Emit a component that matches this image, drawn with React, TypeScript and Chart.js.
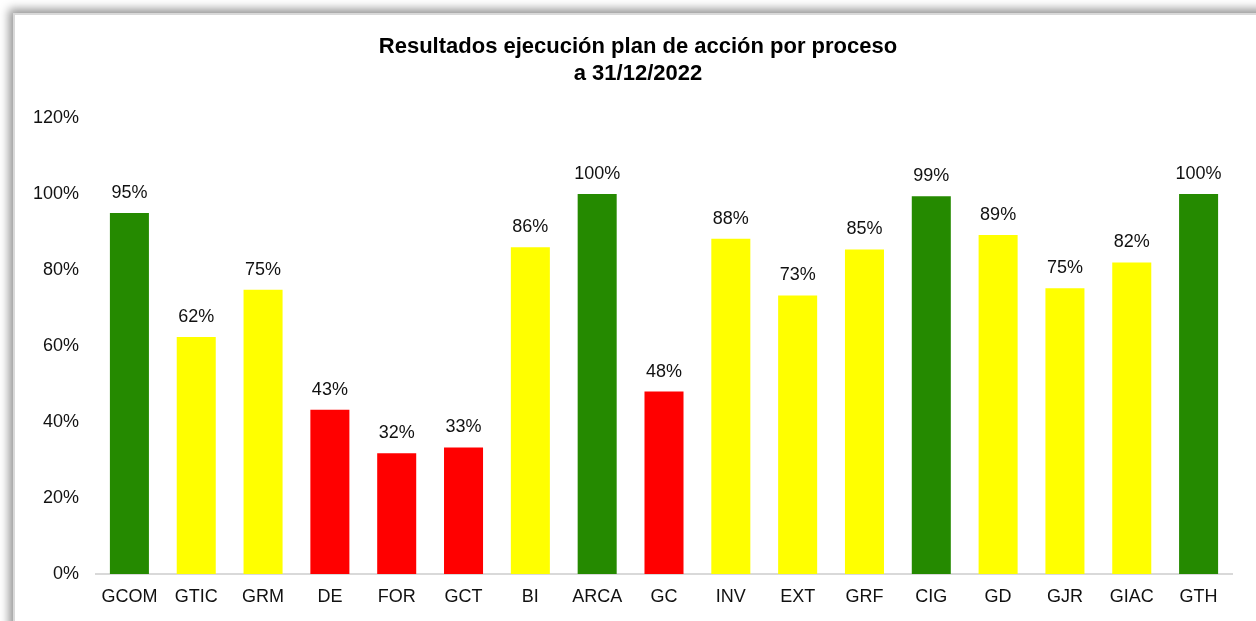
import React, { useEffect, useRef } from "react";
import { Chart, registerables } from "chart.js";

Chart.register(...registerables);

const TITLE_LINES = ["Resultados ejecución plan de acción por proceso", "a 31/12/2022"];
const CATEGORIES = ["GCOM", "GTIC", "GRM", "DE", "FOR", "GCT", "BI", "ARCA", "GC", "INV", "EXT", "GRF", "CIG", "GD", "GJR", "GIAC", "GTH"];
const VALUES = [95, 62.4, 74.8, 43.2, 31.8, 33.3, 86, 100, 48, 88.2, 73.3, 85.4, 99.4, 89.2, 75.2, 82, 100];
const STATUS = ["g", "y", "y", "r", "r", "r", "y", "g", "r", "y", "y", "y", "g", "y", "y", "y", "g"];
const STATUS_COLORS: Record<string, string> = { g: "#258a00", y: "#ffff00", r: "#ff0000" };
const Y_MAX = 120;
const Y_STEP = 20;

const FONT = "'Liberation Sans', Arial, sans-serif";

const valueLabels = {
  id: "valueLabels",
  afterDatasetsDraw(chart: any) {
    const ctx = chart.ctx;
    const meta = chart.getDatasetMeta(0);
    const data = chart.data.datasets[0].data as number[];
    ctx.save();
    ctx.font = `18px ${FONT}`;
    ctx.fillStyle = "#111";
    ctx.textAlign = "center";
    ctx.textBaseline = "alphabetic";
    meta.data.forEach((bar: any, i: number) => {
      ctx.fillText(`${Math.round(data[i])}%`, bar.x, bar.y - 15);
    });
    ctx.restore();
  },
};

const titlePlugin = {
  id: "customTitle",
  afterDraw(chart: any) {
    const ctx = chart.ctx;
    ctx.save();
    ctx.font = `bold 22px ${FONT}`;
    ctx.fillStyle = "#000";
    ctx.textAlign = "center";
    ctx.textBaseline = "alphabetic";
    TITLE_LINES.forEach((line, i) => {
      ctx.fillText(line, 638, 53 + i * 27);
    });
    ctx.restore();
  },
};

export default function App() {
  const ref = useRef<HTMLCanvasElement | null>(null);
  useEffect(() => {
    if (!ref.current) return;
    const chart = new Chart(ref.current, {
      type: "bar",
      data: {
        labels: CATEGORIES,
        datasets: [
          {
            data: VALUES,
            backgroundColor: STATUS.map((s) => STATUS_COLORS[s]),
            borderWidth: 0,
            barPercentage: 0.584,
            categoryPercentage: 1,
          },
        ],
      },
      options: {
        responsive: false,
        animation: false,
        devicePixelRatio: 1,
        layout: { padding: { left: 0, right: 24, top: 118, bottom: 0 } },
        plugins: {
          legend: { display: false },
          tooltip: { enabled: false },
          title: { display: false },
        },
        scales: {
          x: {
            grid: { display: false, drawTicks: false },
            border: { display: true, color: "#d9d9d9", width: 2 },
            ticks: { color: "#111", font: { family: FONT, size: 18 }, padding: 12, maxRotation: 0, autoSkip: false },
            afterFit: (scale: any) => {
              scale.height = 47;
            },
          },
          y: {
            min: 0,
            max: Y_MAX,
            grid: { display: false, drawTicks: false },
            border: { display: false },
            ticks: {
              stepSize: Y_STEP,
              color: "#111",
              font: { family: FONT, size: 18 },
              padding: 17,
              callback: (v: any) => `${v}%`,
            },
            afterFit: (scale: any) => {
              scale.width = 96;
            },
          },
        },
      },
      plugins: [valueLabels, titlePlugin],
    });
    return () => chart.destroy();
  }, []);

  return (
    <div style={{ position: "fixed", left: 0, top: 0, width: 1256, height: 621, overflow: "hidden", background: "#fff" }}>
      <div
        style={{
          position: "absolute",
          left: 13,
          top: 13,
          width: 1400,
          height: 800,
          background: "#fff",
          borderTop: "2px solid #d9d9d9",
          borderLeft: "2px solid #d9d9d9",
          boxShadow: "-2px -2px 9px 2px rgba(0,0,0,0.42)",
        }}
      />
      <canvas ref={ref} width={1256} height={621} style={{ position: "absolute", left: 0, top: 0, width: 1256, height: 621 }} />
    </div>
  );
}
